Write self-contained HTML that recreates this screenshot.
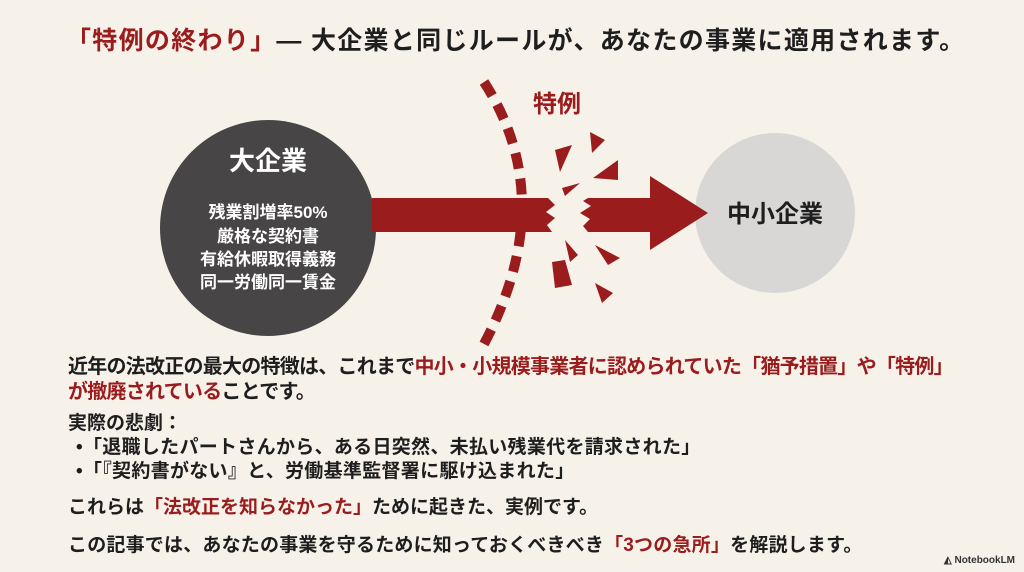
<!DOCTYPE html>
<html><head><meta charset="utf-8"><style>
html,body{margin:0;padding:0;}
body{width:1024px;height:572px;background:#f6f2ea;position:relative;overflow:hidden;font-family:"Liberation Sans","Noto Sans CJK JP",sans-serif;font-weight:bold;color:#1e1e1e;}
.t{position:absolute;white-space:nowrap;}
.r{color:#9b1c1c;}
</style></head><body>
<div class="t" style="left:66px;top:26px;font-size:25px;line-height:30px;letter-spacing:1.3px;"><span class="r">「特例の終わり」</span>― 大企業と同じルールが、あなたの事業に適用されます。</div>
<svg width="1024" height="572" style="position:absolute;left:0;top:0">
<circle cx="268" cy="228" r="108" fill="#474545"/>
<circle cx="775" cy="213" r="80" fill="#d8d7d5"/>
<g fill="#9b1c1c">
<polygon points="372,198 548,198 555,205 546,212 555,218 547,225 552,232 372,232"/>
<polygon points="588,198 650,198 650,176 708,213 650,250 650,232 588,232 583,226 590,219 580,213 591,206 583,201"/>
<g stroke="#9b1c1c" stroke-width="10" fill="none" stroke-dasharray="16,10">
<path d="M484,82 Q560,200 484,344"/>
</g>
<polygon points="555,150 572,145 560,172"/>
<polygon points="590,132 605,140 592,153"/>
<polygon points="593,178 618,160 618,180"/>
<polygon points="562,188 580,183 565,196"/>
<polygon points="565,240 578,255 570,262"/>
<polygon points="552,262 565,260 572,285 555,288"/>
<polygon points="595,245 620,258 608,265"/>
<polygon points="595,283 613,293 602,303"/>
</g>
<text x="557" y="112" font-size="24" fill="#9b1c1c" text-anchor="middle" font-weight="bold" font-family="Liberation Sans,Noto Sans CJK JP,sans-serif">特例</text>
<g fill="#fff" font-weight="bold" font-family="Liberation Sans,Noto Sans CJK JP,sans-serif" text-anchor="middle">
<text x="268" y="170" font-size="26">大企業</text>
<text x="268" y="218" font-size="17">残業割増率50%</text>
<text x="268" y="242" font-size="17">厳格な契約書</text>
<text x="268" y="265" font-size="17">有給休暇取得義務</text>
<text x="268" y="288" font-size="17">同一労働同一賃金</text>
</g>
<text x="775" y="222" font-size="24" fill="#1e1e1e" text-anchor="middle" font-weight="bold" font-family="Liberation Sans,Noto Sans CJK JP,sans-serif">中小企業</text>
</svg>
<div class="t" style="left:68px;top:355px;font-size:20px;line-height:25px;letter-spacing:-0.75px;">近年の法改正の最大の特徴は、これまで<span class="r">中小・小規模事業者に認められていた「猶予措置」や「特例」<br>が撤廃されている</span>ことです。</div>
<div class="t" style="left:68px;top:412px;font-size:19px;line-height:24px;">実際の悲劇：</div>
<div class="t" style="left:76px;top:436px;font-size:19px;line-height:24px;letter-spacing:0.3px;">•「退職したパートさんから、ある日突然、未払い残業代を請求された」<br>•「『契約書がない』と、労働基準監督署に駆け込まれた」</div>
<div class="t" style="left:68px;top:496px;font-size:19px;line-height:24px;">これらは<span class="r">「法改正を知らなかった」</span>ために起きた、実例です。</div>
<div class="t" style="left:68px;top:534px;font-size:19px;line-height:24px;letter-spacing:0.2px;">この記事では、あなたの事業を守るために知っておくべきべき<span class="r">「3つの急所」</span>を解説します。</div>
<div class="t" style="left:944px;top:555px;font-size:10px;color:#333;">◭ NotebookLM</div>
</body></html>
